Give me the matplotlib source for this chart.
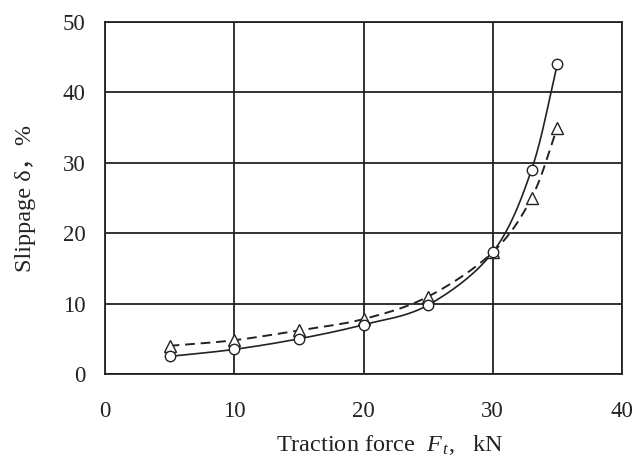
import numpy as np
import matplotlib
matplotlib.use('Agg')
import matplotlib.pyplot as plt

plt.rcParams['font.family'] = ['Liberation Serif', 'Noto Sans CJK SC', 'DejaVu Serif']
plt.rcParams['mathtext.fontset'] = 'custom'
plt.rcParams['mathtext.it'] = 'Liberation Serif:italic'
plt.rcParams['mathtext.rm'] = 'Liberation Serif'

# traction force, kN
force = [5, 10, 15, 20, 25, 30, 33, 35]
# slippage, %
slip_circle = [2.5, 3.5, 5.0, 7.0, 9.8, 17.3, 29.0, 44.0]
slip_triangle = [4.0, 4.8, 6.2, 7.8, 11.0, 17.3, 25.0, 35.0]


def smooth(x, y, n=20):
    # Catmull-Rom curve through the measured points
    x = np.asarray(x, float)
    y = np.asarray(y, float)
    px = np.concatenate([[2 * x[0] - x[1]], x, [2 * x[-1] - x[-2]]])
    py = np.concatenate([[2 * y[0] - y[1]], y, [2 * y[-1] - y[-2]]])
    xs, ys = [], []
    t = np.linspace(0, 1, n)
    for i in range(1, len(px) - 2):
        for arr, out in ((px, xs), (py, ys)):
            p0, p1, p2, p3 = arr[i - 1:i + 3]
            out.append(0.5 * (2 * p1 + (-p0 + p2) * t
                              + (2 * p0 - 5 * p1 + 4 * p2 - p3) * t ** 2
                              + (-p0 + 3 * p1 - 3 * p2 + p3) * t ** 3))
    return np.concatenate(xs), np.concatenate(ys)


fig = plt.figure(figsize=(6.32, 4.59), dpi=100)
ax = fig.add_axes([105 / 632, 1 - 374 / 459, 517 / 632, 352 / 459])

sx, sy = smooth(force, slip_circle)
ax.plot(sx, sy, color='#222222', lw=1.2, zorder=3)
tx, ty = smooth(force, slip_triangle)
ax.plot(tx, ty, color='#222222', lw=1.4, ls=(0, (5, 3)), zorder=3)

ax.plot(force, slip_triangle, ls='none', marker='^', ms=8, mfc='white',
        mec='#222222', mew=1.0, zorder=4)
ax.plot(force, slip_circle, ls='none', marker='o', ms=7.5, mfc='white',
        mec='#222222', mew=1.0, zorder=5)

ax.set_xlim(0, 40)
ax.set_ylim(0, 50)
ax.set_xticks([0, 10, 20, 30, 40])
ax.set_yticks([0, 10, 20, 30, 40, 50])
ax.grid(True, color='#222222', lw=1.3)
ax.set_axisbelow(True)
for s in ax.spines.values():
    s.set_color('#222222')
    s.set_linewidth(1.3)
ax.tick_params(length=0, labelsize=16.5, colors='#222222')
ax.tick_params(axis='x', pad=19.5)
ax.tick_params(axis='y', pad=14)

ax.set_xlabel(r'Traction force  $F_{\,t}$,   kN', fontsize=17.5, color='#222222')
ax.set_ylabel('Slippage δ，%', fontsize=17.5, color='#222222')
ax.xaxis.set_label_coords(0.551, -0.168)
ax.yaxis.set_label_coords(-0.134, 0.5)

fig.savefig('out.png', dpi=100)
